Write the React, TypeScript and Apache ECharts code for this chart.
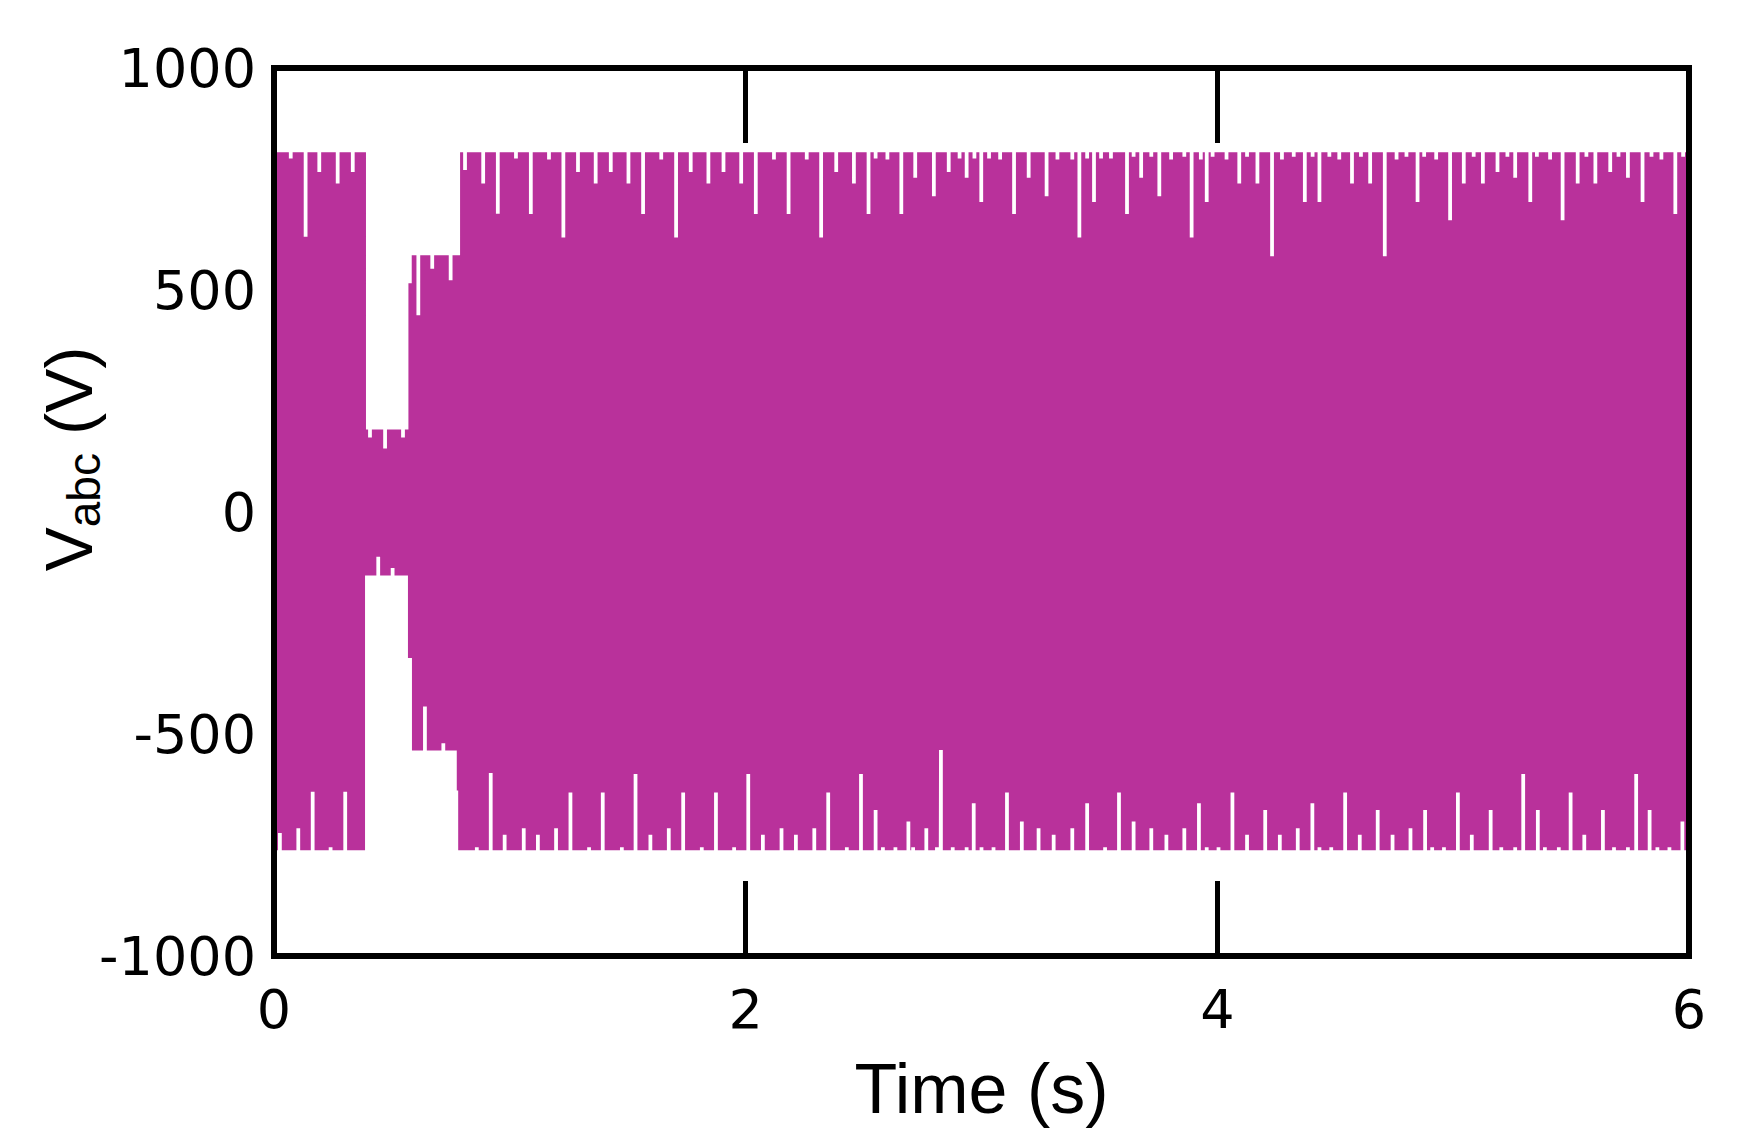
import React, { useEffect, useRef } from "react";
import * as echarts from "echarts";

// Axis ranges / ticks
const xMin = 0;
const xMax = 6;
const xInterval = 2;
const yMin = -1000;
const yMax = 1000;
const yInterval = 500;

// Upper envelope of the three-phase voltage (step breakpoints: time s, voltage V)
const upperStepT = [0, 0.39, 0.39, 0.57, 0.57, 0.584, 0.584, 0.789, 0.789, 6];
const upperStepV = [810, 810, 186, 186, 515, 515, 578, 578, 810, 810];

// Lower envelope
const lowerStepT = [0, 0.386, 0.386, 0.568, 0.568, 0.585, 0.585, 0.775, 0.775, 0.781, 0.781, 6];
const lowerStepV = [-762, -762, -143, -143, -329, -329, -537, -537, -627, -627, -762, -762];

// Downward notches on the upper envelope (time s, minimum V)
const upperDipT = [
  0.071, 0.134, 0.192, 0.27, 0.334,
  0.407, 0.471, 0.547,
  0.612, 0.671, 0.749,
  0.81, 0.887, 0.949, 1.026, 1.089, 1.166, 1.227, 1.289, 1.364, 1.428,
  1.503, 1.565, 1.642, 1.705, 1.767, 1.842, 1.906, 1.981, 2.043, 2.12,
  2.182, 2.259, 2.32, 2.384, 2.459, 2.521, 2.551, 2.601, 2.66, 2.719,
  2.798, 2.861, 2.907, 2.937, 2.97, 2.999, 3.032, 3.079, 3.138, 3.2,
  3.276, 3.322, 3.385, 3.415, 3.448, 3.477, 3.507, 3.549, 3.617, 3.645,
  3.677, 3.72, 3.754, 3.804, 3.86, 3.891, 3.93, 3.955, 3.98, 4.039,
  4.093, 4.126, 4.17, 4.232, 4.274, 4.324, 4.371, 4.404, 4.433, 4.475,
  4.517, 4.571, 4.609, 4.648, 4.71, 4.76, 4.802, 4.849, 4.877, 4.928,
  4.987, 5.045, 5.087, 5.126, 5.188, 5.23, 5.263, 5.327, 5.355, 5.411,
  5.464, 5.528, 5.565, 5.603, 5.666, 5.701, 5.741, 5.803, 5.841, 5.883,
  5.942, 5.975,
];
const upperDipV = [
  796, 620, 766, 740, 766,
  168, 143, 168,
  443, 548, 522,
  770, 740, 672, 796, 671, 794, 618, 766, 740, 766,
  740, 671, 794, 618, 766, 740, 766, 740, 671, 794,
  671, 794, 618, 766, 740, 671, 796, 794, 671, 753,
  711, 766, 796, 753, 796, 698, 796, 794, 671, 753,
  711, 794, 794, 618, 796, 698, 796, 796, 671, 800,
  753, 800, 711, 794, 800, 618, 794, 698, 800, 794,
  740, 800, 740, 576, 794, 800, 698, 800, 698, 800,
  794, 740, 800, 740, 576, 794, 800, 698, 800, 794,
  657, 740, 800, 740, 766, 800, 753, 698, 800, 794,
  657, 740, 800, 740, 766, 800, 753, 698, 800, 794,
  671, 800,
];

// Upward spikes on the lower envelope (time s, maximum V)
const lowerSpikeT = [
  0.025, 0.103, 0.164, 0.24, 0.302,
  0.442, 0.503,
  0.64, 0.718,
  0.86, 0.919, 0.978, 1.059, 1.119, 1.196, 1.257, 1.336, 1.394, 1.475,
  1.533, 1.596, 1.674, 1.735, 1.814, 1.874, 1.951, 2.011, 2.073, 2.152,
  2.213, 2.291, 2.35, 2.429, 2.489, 2.551, 2.582, 2.635, 2.69, 2.71,
  2.766, 2.811, 2.828, 2.878, 2.937, 2.967, 3.0, 3.051, 3.108, 3.171,
  3.242, 3.306, 3.385, 3.448, 3.524, 3.583, 3.645, 3.72, 3.784, 3.86,
  3.922, 3.955, 4.005, 4.064, 4.126, 4.203, 4.265, 4.341, 4.403, 4.433,
  4.483, 4.542, 4.604, 4.68, 4.743, 4.819, 4.881, 4.911, 4.961, 5.02,
  5.079, 5.159, 5.204, 5.263, 5.297, 5.359, 5.389, 5.448, 5.498, 5.556,
  5.635, 5.682, 5.741, 5.776, 5.833, 5.866, 5.917, 5.972,
];
const lowerSpikeV = [
  -723, -712, -630, -755, -630,
  -101, -126,
  -438, -521,
  -755, -588, -727, -712, -727, -712, -632, -755, -632, -755,
  -590, -727, -712, -632, -755, -632, -755, -590, -727, -712,
  -727, -712, -632, -755, -590, -671, -755, -755, -697, -755,
  -712, -755, -536, -755, -755, -656, -755, -755, -632, -697,
  -712, -727, -712, -656, -755, -632, -697, -712, -727, -712,
  -656, -755, -755, -632, -727, -671, -727, -712, -656, -755,
  -755, -632, -727, -671, -727, -712, -671, -755, -755, -632,
  -727, -671, -755, -755, -590, -671, -755, -755, -632, -727,
  -671, -755, -755, -590, -671, -755, -755, -697,
];

const NOTCH_HALF_WIDTH = 0.008;

function buildEnvelope(stepT: number[], stepV: number[], notchT: number[], notchV: number[]) {
  const envAt = (t: number) => {
    for (let i = 0; i < stepT.length - 1; i++) {
      if (stepT[i] !== stepT[i + 1] && t >= stepT[i] && t <= stepT[i + 1]) return stepV[i];
    }
    return stepV[stepV.length - 1];
  };
  const pts: number[][] = stepT.map((t, i) => [t, stepV[i]]);
  notchT.forEach((t, i) => {
    const b = envAt(t);
    const w = NOTCH_HALF_WIDTH;
    pts.push([t - w, b], [t - w, notchV[i]], [t + w, notchV[i]], [t + w, b]);
  });
  pts.sort((a, b) => a[0] - b[0]);
  return pts;
}

const FILL = "#B9319B";

export default function App() {
  const ref = useRef<HTMLDivElement>(null);
  useEffect(() => {
    if (!ref.current) return;
    const chart = echarts.init(ref.current, undefined, { renderer: "svg" });
    const upper = buildEnvelope(upperStepT, upperStepV, upperDipT, upperDipV);
    const lower = buildEnvelope(lowerStepT, lowerStepV, lowerSpikeT, lowerSpikeV);
    const frameLine = { show: true, onZero: false, lineStyle: { color: "#000", width: 6, cap: "square" } };
    const tick = { show: true, inside: true, length: 75, lineStyle: { color: "#000", width: 5 } };
    const tickFont = { fontFamily: "DejaVu Sans", fontSize: 54, color: "#000" };
    chart.setOption({
      animation: false,
      backgroundColor: "#fff",
      grid: { left: 274, right: 57, top: 68, bottom: 188, containLabel: false },
      xAxis: [
        {
          type: "value", position: "bottom", min: xMin, max: xMax, interval: xInterval, z: 10,
          axisLine: frameLine, axisTick: tick,
          axisLabel: { ...tickFont, margin: 26, formatter: (v: number) => String(v) },
          splitLine: { show: false },
          name: "Time (s)", nameLocation: "middle", nameGap: 98,
          nameTextStyle: { fontFamily: "Liberation Sans", fontSize: 70, color: "#000" },
        },
        {
          type: "value", position: "top", min: xMin, max: xMax, interval: xInterval, z: 10,
          axisLine: frameLine, axisTick: tick, axisLabel: { show: false }, splitLine: { show: false },
        },
      ],
      yAxis: [
        {
          type: "value", position: "left", min: yMin, max: yMax, interval: yInterval, z: 10,
          axisLine: frameLine, axisTick: { show: false },
          axisLabel: { ...tickFont, margin: 18, formatter: (v: number) => String(v) },
          splitLine: { show: false },
          name: "{a|V}{b|abc}{a| (V)}", nameLocation: "middle", nameGap: 167,
          nameMoveOverlap: false,
          nameTextStyle: {
            color: "#000", fontFamily: "Liberation Sans", fontSize: 66,
            padding: [0, 0, 0, 106],
            rich: {
              a: { fontFamily: "Liberation Sans", fontSize: 66, lineHeight: 76, color: "#000" },
              b: { fontFamily: "Liberation Sans", fontSize: 46, lineHeight: 46, verticalAlign: "bottom", color: "#000" },
            },
          },
        },
        {
          type: "value", position: "right", min: yMin, max: yMax, interval: yInterval, z: 10,
          axisLine: frameLine, axisTick: { show: false }, axisLabel: { show: false }, splitLine: { show: false },
        },
      ],
      series: [
        {
          type: "line", data: upper, showSymbol: false, symbol: "none",
          lineStyle: { width: 0, opacity: 0 }, areaStyle: { color: FILL, opacity: 1, origin: "auto" },
          z: 2, silent: true,
        },
        {
          type: "line", data: lower, showSymbol: false, symbol: "none",
          lineStyle: { width: 0, opacity: 0 }, areaStyle: { color: FILL, opacity: 1, origin: "auto" },
          z: 2, silent: true,
        },
      ],
    });
    return () => chart.dispose();
  }, []);
  return <div ref={ref} style={{ position: "absolute", left: 0, top: 0, width: 1746, height: 1144 }} />;
}
